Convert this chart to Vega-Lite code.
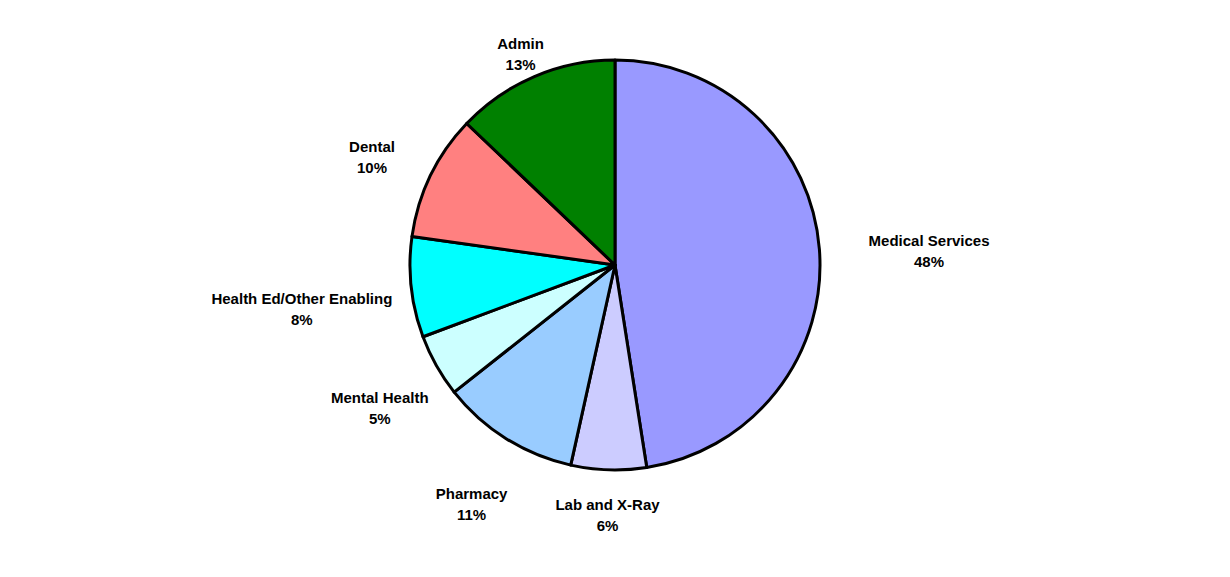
{
  "$schema": "https://vega.github.io/schema/vega-lite/v6.json",
  "autosize": {"type": "fit", "contains": "padding"},
  "width": 1230,
  "height": 577,
  "background": "white",
  "view": {"stroke": null},
  "data": {
    "values": [
      {"category": "Medical Services", "pct": 48, "label": "Medical Services\n48%", "order": 1, "ring": "far"},
      {"category": "Lab and X-Ray", "pct": 6, "label": "Lab and X-Ray\n6%", "order": 2, "ring": "near"},
      {"category": "Pharmacy", "pct": 11, "label": "Pharmacy\n11%", "order": 3, "ring": "mid"},
      {"category": "Mental Health", "pct": 5, "label": "Mental Health\n5%", "order": 4, "ring": "mid"},
      {"category": "Health Ed/Other Enabling", "pct": 8, "label": "Health Ed/Other Enabling\n8%", "order": 5, "ring": "far"},
      {"category": "Dental", "pct": 10, "label": "Dental\n10%", "order": 6, "ring": "mid"},
      {"category": "Admin", "pct": 13, "label": "Admin\n13%", "order": 7, "ring": "near"}
    ]
  },
  "encoding": {
    "theta": {"field": "pct", "type": "quantitative", "stack": true},
    "order": {"field": "order", "type": "quantitative"}
  },
  "layer": [
    {
      "mark": {"type": "arc", "outerRadius": 205, "stroke": "black", "strokeWidth": 3, "strokeJoin": "round"},
      "encoding": {
        "color": {
          "field": "category",
          "type": "nominal",
          "legend": null,
          "scale": {
            "domain": ["Medical Services", "Lab and X-Ray", "Pharmacy", "Mental Health", "Health Ed/Other Enabling", "Dental", "Admin"],
            "range": ["#9999FF", "#CCCCFF", "#99CCFF", "#CCFFFF", "#00FFFF", "#FF8080", "#008000"]
          }
        }
      }
    },
    {
      "mark": {"type": "text", "radius": 315, "font": "Liberation Sans", "fontWeight": "bold", "fontSize": 15, "lineBreak": "\n", "lineHeight": 21, "color": "black", "baseline": "middle", "align": "center"},
      "encoding": {
        "text": {"field": "label"},
        "opacity": {"condition": {"test": "datum.ring === 'far'", "value": 1}, "value": 0}
      }
    },
    {
      "mark": {"type": "text", "radius": 270, "font": "Liberation Sans", "fontWeight": "bold", "fontSize": 15, "lineBreak": "\n", "lineHeight": 21, "color": "black", "baseline": "middle", "align": "center"},
      "encoding": {
        "text": {"field": "label"},
        "opacity": {"condition": {"test": "datum.ring === 'mid'", "value": 1}, "value": 0}
      }
    },
    {
      "mark": {"type": "text", "radius": 240, "font": "Liberation Sans", "fontWeight": "bold", "fontSize": 15, "lineBreak": "\n", "lineHeight": 21, "color": "black", "baseline": "middle", "align": "center"},
      "encoding": {
        "text": {"field": "label"},
        "opacity": {"condition": {"test": "datum.ring === 'near'", "value": 1}, "value": 0}
      }
    }
  ]
}
